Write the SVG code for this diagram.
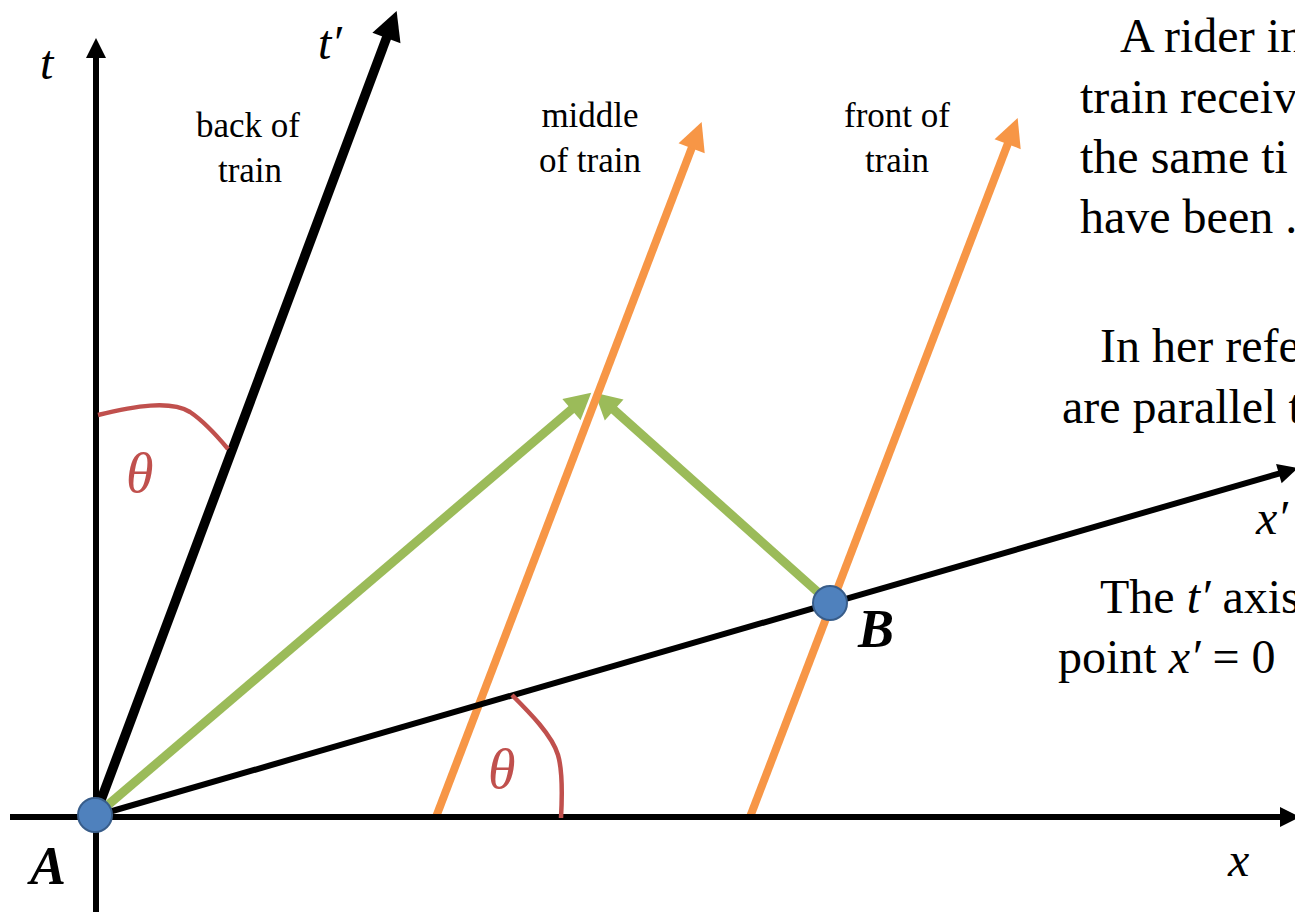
<svg xmlns="http://www.w3.org/2000/svg" width="1295" height="912" viewBox="0 0 1295 912">
<defs>
<style>
.ax{stroke:#000;stroke-width:6;fill:none}
.axt{stroke:#000;stroke-width:9.5;fill:none}
.or{stroke:#F79646;stroke-width:8;fill:none}
.gr{stroke:#9BBB59;stroke-width:9;fill:none}
.arc{stroke:#C0504D;stroke-width:4.5;fill:none}
.pt{fill:#4F81BD;stroke:#385D8A;stroke-width:2}
.lbl{font-family:"Liberation Serif","Times New Roman",serif;font-style:italic;font-size:48px;fill:#000}
.bold{font-family:"Liberation Serif","Times New Roman",serif;font-style:italic;font-weight:bold;font-size:54px;fill:#000}
.th{font-family:"Liberation Serif","Times New Roman",serif;font-style:italic;font-size:56px;fill:#C0504D}
.sm{font-family:"Liberation Serif","Times New Roman",serif;font-size:35px;fill:#000;text-anchor:middle}
.big{font-family:"Liberation Serif","Times New Roman",serif;font-size:48px;fill:#000}
.it{font-style:italic}
</style>
<marker id="hT" markerUnits="userSpaceOnUse" orient="auto" refX="1" refY="0" markerWidth="40" markerHeight="40" viewBox="0 -20 40 40" overflow="visible"><path d="M0,-10 L20,0 L0,10 z" fill="#000"/></marker>
<marker id="hTp" markerUnits="userSpaceOnUse" orient="auto" refX="1" refY="0" markerWidth="40" markerHeight="40" viewBox="0 -20 40 40" overflow="visible"><path d="M0,-15 L29,0 L0,15 z" fill="#000"/></marker>
<marker id="hO" markerUnits="userSpaceOnUse" orient="auto" refX="1" refY="0" markerWidth="40" markerHeight="40" viewBox="0 -20 40 40" overflow="visible"><path d="M0,-14 L28,0 L0,14 z" fill="#F79646"/></marker>
<marker id="hG" markerUnits="userSpaceOnUse" orient="auto" refX="1" refY="0" markerWidth="40" markerHeight="40" viewBox="0 -20 40 40" overflow="visible"><path d="M0,-14 L26,0 L0,14 z" fill="#9BBB59"/></marker>
</defs>
<rect width="1295" height="912" fill="#fff"/>
<g id="connectors">
<line class="gr" x1="95" y1="816" x2="572.2" y2="408.9" marker-end="url(#hG)"/>
<line class="gr" x1="830" y1="603" x2="613.4" y2="409.3" marker-end="url(#hG)"/>
<line class="or" x1="436" y1="817" x2="692" y2="147.2" marker-end="url(#hO)"/>
<line class="or" x1="750" y1="817" x2="1008" y2="143.2" marker-end="url(#hO)"/>
<line class="ax" x1="96" y1="912" x2="96" y2="57" marker-end="url(#hT)"/>
<line class="ax" x1="10" y1="817" x2="1281" y2="817" marker-end="url(#hT)"/>
<line class="ax" x1="95" y1="816" x2="1279.8" y2="473.3" marker-end="url(#hT)"/>
<line class="axt" x1="95" y1="816" x2="386.8" y2="37.1" marker-end="url(#hTp)"/>
<path class="arc" d="M98,415 C135,406 170,400 190,412 C205,422 218,437 228,449"/>
<path class="arc" d="M512,695 C530,713 552,735 558,755 C563,772 562,800 561,818"/>
</g>
<g id="node-A"><circle class="pt" cx="95" cy="815" r="17"/><text class="bold" x="30" y="884">A</text></g>
<g id="node-B"><circle class="pt" cx="830" cy="603" r="17"/><text class="bold" x="858" y="647">B</text></g>
<g id="axis-labels">
<text class="lbl" x="40" y="79">t</text>
<text class="lbl" x="318" y="59">t′</text>
<text class="lbl" x="1228" y="876">x</text>
<text class="lbl" x="1256" y="534">x′</text>
<text class="th" x="126" y="492">θ</text>
<text class="th" x="488" y="788">θ</text>
</g>
<g id="train-labels">
<text class="sm" x="248" y="137">back of</text>
<text class="sm" x="250" y="182">train</text>
<text class="sm" x="590" y="127">middle</text>
<text class="sm" x="590" y="172">of  train</text>
<text class="sm" x="897" y="127">front of</text>
<text class="sm" x="897" y="172">train</text>
</g>
<g id="side-text">
<text class="big" x="1120" y="52">A rider in</text>
<text class="big" x="1080" y="113">train receiv</text>
<text class="big" x="1080" y="173">the same ti</text>
<text class="big" x="1080" y="233">have been .</text>
<text class="big" x="1100" y="362">In her refe</text>
<text class="big" x="1062" y="423">are parallel t</text>
<text class="big" x="1100" y="613">The <tspan class="it">t′</tspan> axis</text>
<text class="big" x="1058" y="673">point <tspan class="it">x′</tspan> = 0</text>
</g>
</svg>
